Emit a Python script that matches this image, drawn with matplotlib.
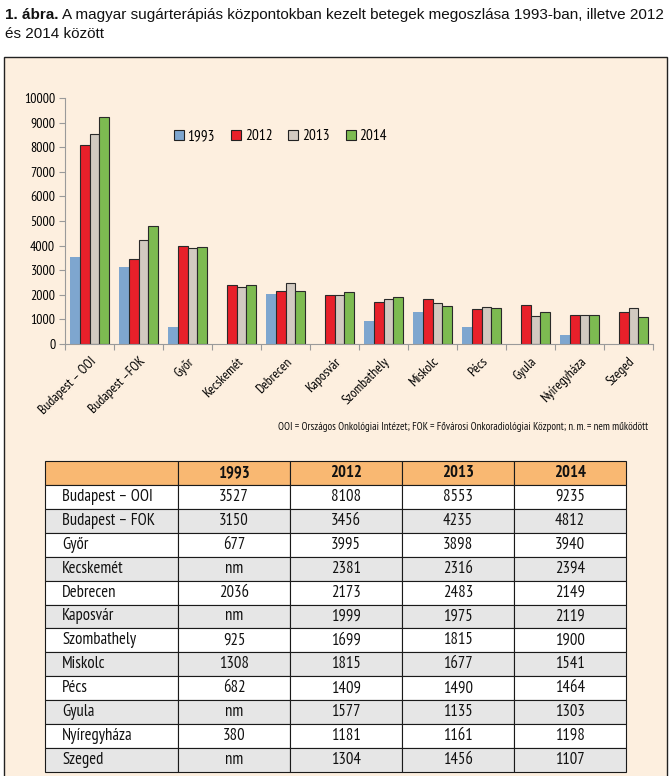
import numpy as np
import matplotlib
matplotlib.use('Agg')
import matplotlib.pyplot as plt
from matplotlib.patches import Rectangle, Patch

plt.rcParams['font.family'] = ['PT Sans Narrow', 'DejaVu Sans']

# adatok
varosok = ['Budapest – OOI', 'Budapest – FOK', 'Győr', 'Kecskemét', 'Debrecen', 'Kaposvár',
           'Szombathely', 'Miskolc', 'Pécs', 'Gyula', 'Nyíregyháza', 'Szeged']
tengely_cimkek = ['Budapest – OOI', 'Budapest –FOK', 'Győr', 'Kecskemét', 'Debrecen', 'Kaposvár',
                  'Szombathely', 'Miskolc', 'Pécs', 'Gyula', 'Nyíregyháza', 'Szeged']
evek = ['1993', '2012', '2013', '2014']
v1993 = [3527, 3150, 677, np.nan, 2036, np.nan, 925, 1308, 682, np.nan, 380, np.nan]
v2012 = [8108, 3456, 3995, 2381, 2173, 1999, 1699, 1815, 1409, 1577, 1181, 1304]
v2013 = [8553, 4235, 3898, 2316, 2483, 1975, 1815, 1677, 1490, 1135, 1161, 1456]
v2014 = [9235, 4812, 3940, 2394, 2149, 2119, 1900, 1541, 1464, 1303, 1198, 1107]
sorozatok = [v1993, v2012, v2013, v2014]
szinek = ['#7ea6cf', '#e8202a', '#d2cac1', '#7dbb51']
szelek = ['none', '#2a2a2a', '#2a2a2a', '#2a2a2a']

W, H = 671, 776
fig = plt.figure(figsize=(W / 100, H / 100), dpi=100)
fig.patch.set_facecolor('white')

# keret
keret = Rectangle((4 / W, -0.01), 663 / W, 1 - 57 / H + 0.01, transform=fig.transFigure,
                  facecolor='#fdefdf', edgecolor='#222222', linewidth=1.0, zorder=-5)
fig.patches.append(keret)

# cím
cimbetu = ['Liberation Sans', 'DejaVu Sans']
renderer = fig.canvas.get_renderer()
t1 = fig.text(5 / W, 1 - 15 / H, '1. ábra.', fontsize=11, fontweight='bold',
              family=cimbetu, va='center', color='#111111')
bb = t1.get_window_extent(renderer)
fig.text((bb.x1 + 3) / W, 1 - 15 / H,
         'A magyar sugárterápiás központokban kezelt betegek megoszlása 1993-ban, illetve 2012',
         fontsize=11, family=cimbetu, va='center', color='#111111')
fig.text(5 / W, 1 - 34 / H, 'és 2014 között', fontsize=11,
         family=cimbetu, va='center', color='#111111')

# oszlopdiagram
ax = fig.add_axes([65 / W, 1 - 344 / H, 588 / W, 246 / H])
ax.set_facecolor('none')
x = np.arange(len(varosok))
bw = 0.2
for i, (s, c, e) in enumerate(zip(sorozatok, szinek, szelek)):
    ax.bar(x + (i - 1.5) * bw, s, width=bw, color=c, edgecolor=e, linewidth=0.8, label=evek[i])

ax.set_xlim(-0.5, len(varosok) - 0.5)
ax.set_ylim(0, 10000)
ax.set_yticks(range(0, 10001, 1000))
for sp in ['top', 'right']:
    ax.spines[sp].set_visible(False)
for sp in ['left', 'bottom']:
    ax.spines[sp].set_color('#9a9a9a')
    ax.spines[sp].set_linewidth(0.8)
ax.tick_params(axis='y', length=4, width=0.8, color='#9a9a9a', labelsize=10, pad=3)
ax.set_xticks(x)
ax.set_xticklabels(tengely_cimkek, rotation=45, ha='right', rotation_mode='anchor', fontsize=9.8)
ax.set_xticks(np.arange(-0.5, len(varosok)), minor=True)
ax.tick_params(axis='x', which='major', length=0, pad=8)
ax.tick_params(axis='x', which='minor', length=4, width=0.8, color='#9a9a9a')

kezelok = [Patch(facecolor=c, edgecolor='#222222', linewidth=0.8) for c in szinek]
fig.legend(kezelok, evek, loc='center left', bbox_to_anchor=(160 / W, 1 - 136 / H), ncol=4,
           frameon=False, fontsize=11, handlelength=0.65, handleheight=0.65, handletextpad=0.25,
           columnspacing=1.05)

fig.text(648 / W, 1 - 427 / H,
         'OOI = Országos Onkológiai Intézet; FOK = Fővárosi Onkoradiológiai Központ; n. m. = nem működött',
         fontsize=7.8, ha='right', va='center', color='#111111')

# táblázat
tx0, tx1 = 45, 626
ty0, ty1 = 461, 772
tax = fig.add_axes([tx0 / W, 1 - ty1 / H, (tx1 - tx0) / W, (ty1 - ty0) / H])
tax.axis('off')
fmt = lambda v: 'nm' if np.isnan(v) else str(int(v))
cella = [[varosok[r]] + [fmt(s[r]) for s in sorozatok] for r in range(len(varosok))]
tabla = tax.table(cellText=cella, colLabels=[''] + evek, bbox=[0, 0, 1, 1],
                  colWidths=[133, 112, 112, 112, 112], cellLoc='center')
tabla.auto_set_font_size(False)
for (r, c), cell in tabla.get_celld().items():
    cell.set_edgecolor('#1a1a1a')
    cell.set_linewidth(0.8)
    cell.get_text().set_fontsize(12)
    cell.get_text().set_color('#111111')
    if r == 0:
        cell.set_facecolor('#f9b872')
        cell.get_text().set_fontweight('bold')
    else:
        cell.set_facecolor('white' if r % 2 == 1 else '#e6e6e6')
    if c == 0 and r > 0:
        cell.get_text().set_ha('left')
        cell.PAD = 0.13

fig.savefig('out.png', dpi=100, facecolor=fig.get_facecolor())
